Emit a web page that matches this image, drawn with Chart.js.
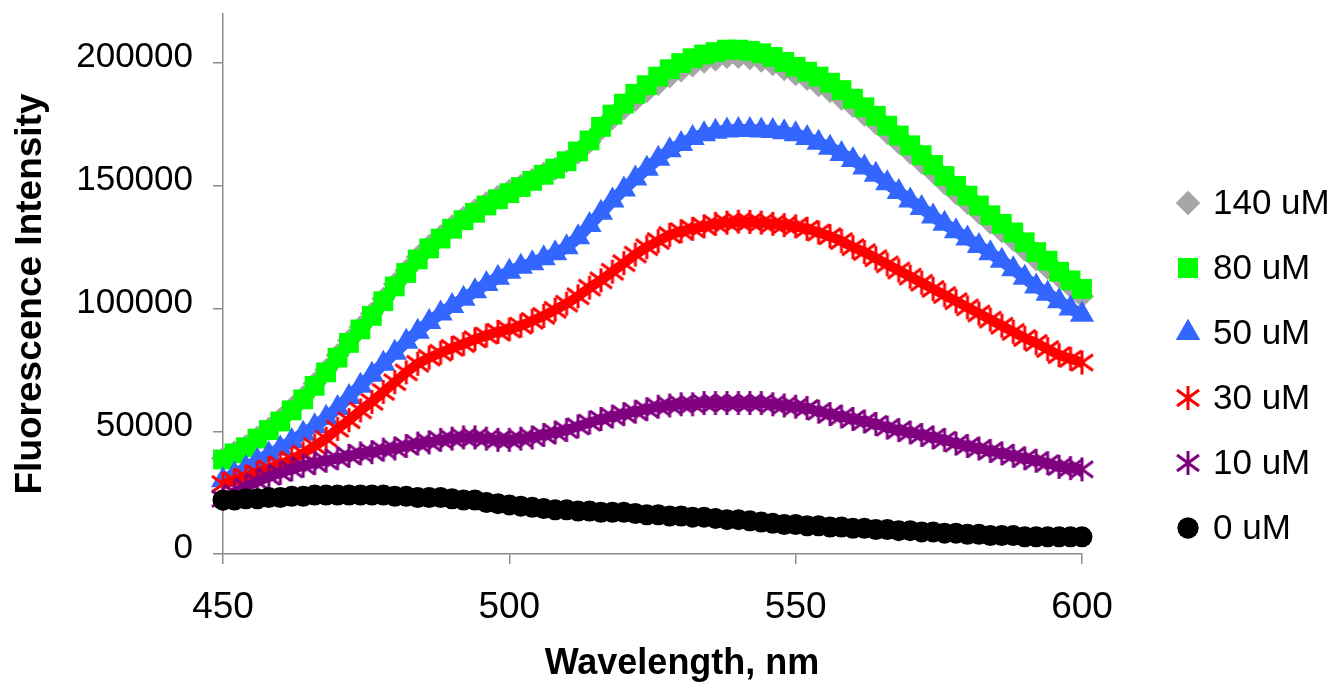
<!DOCTYPE html>
<html lang="en">
<head>
  <meta charset="UTF-8" />
  <title>Fluorescence spectra</title>
  <script src="https://cdn.jsdelivr.net/npm/chart.js"></script>
  <style>
    body {
      margin: 0;
      background-color: #ffffff;
    }
    .chart-wrap {
      width: 1340px;
      height: 688px;
    }
  </style>
</head>
<body>
  <div class="chart-wrap">
    <canvas id="graficaEspectro" width="1340" height="688"></canvas>
  </div>

  <script>
    // wavelength, nm
    const wavelengths = [
      450, 452, 454, 456, 458, 460, 462, 464, 466, 468,
      470, 472, 474, 476, 478, 480, 482, 484, 486, 488,
      490, 492, 494, 496, 498, 500, 502, 504, 506, 508,
      510, 512, 514, 516, 518, 520, 522, 524, 526, 528,
      530, 532, 534, 536, 538, 540, 542, 544, 546, 548,
      550, 552, 554, 556, 558, 560, 562, 564, 566, 568,
      570, 572, 574, 576, 578, 580, 582, 584, 586, 588,
      590, 592, 594, 596, 598, 600
    ];

    const int140uM = [
      39000, 41500, 44000, 47500, 51000, 55000, 59500, 64000, 69500, 75000,
      81000, 87000, 92500, 98000, 104000, 110000, 115500, 121000, 125500, 129500,
      133500, 137000, 140000, 143000, 145500, 148000, 150000, 152500, 155000, 157000,
      160000, 163500, 168000, 173000, 177500, 181500, 185000, 188500, 191500, 194500,
      197000, 199000, 200500, 201500, 202500, 202500, 202000, 201000, 199500, 197500,
      195500, 193500, 191000, 188500, 185500, 182500, 179000, 175500, 171500, 167500,
      163500, 159500, 155500, 151000, 147000, 143000, 139000, 135000, 131500, 128000,
      124000, 120000, 116500, 113000, 109000, 105000
    ];

    const int80uM = [
      38500, 41000, 43500, 47000, 50500, 54000, 58500, 63000, 68500, 74000,
      80000, 86000, 91500, 97000, 103000, 109000, 114500, 120000, 124500, 128500,
      132500, 136000, 139000, 142000, 144500, 147000, 149500, 152000, 154500, 157000,
      160000, 164000, 168500, 174000, 179000, 183500, 187500, 191000, 194500, 197500,
      200000, 202000, 203500, 204500, 205500, 205500, 205000, 204000, 202500, 200500,
      198500, 196500, 194500, 192000, 189000, 185500, 182000, 178500, 174500, 170500,
      166500, 162500, 158500, 154000, 150000, 146000, 142000, 138000, 134500, 131000,
      127000, 123000, 119500, 115000, 111500, 108000
    ];

    const int50uM = [
      30000, 32500, 35000, 38000, 40500, 43000, 46000, 49000, 52000, 55500,
      59500, 64000, 68500, 73000, 77500, 82000, 86500, 90500, 94500, 98000,
      101000, 104000, 107000, 110000, 112500, 115000, 117000, 118500, 120500, 122500,
      125000, 129000, 134000, 139000, 144000, 148500, 153000, 157000, 161000, 164500,
      167000, 169500, 171000, 172000, 172500, 172700, 172700, 172500, 172300, 171800,
      171000, 169500, 167500, 165500, 163000, 160500, 157500, 154500, 151000, 147500,
      144000, 141000, 137500, 134500, 131500, 128500, 125500, 122500, 119500, 116000,
      112500, 109000, 106000, 103000, 100000, 97500
    ];

    const int30uM = [
      28500, 30000, 31500, 33000, 35000, 36500, 38500, 41000, 44000, 47000,
      51000, 54500, 58500, 62000, 66000, 70000, 74000, 77500, 80000, 82000,
      84000, 85500, 87500, 89000, 90500, 91500, 93000, 95000, 97000, 99500,
      102000, 105000, 108500, 111500, 115000, 118500, 122000, 125000, 127500, 130000,
      131500, 132500, 133500, 134500, 135000, 135400, 135300, 135000, 134500, 134000,
      133500, 132500, 131000, 129500, 127500, 125000, 123000, 120500, 118000, 115500,
      113000, 110500, 108000, 105500, 103000, 100500, 98000, 95500, 93000, 90500,
      88000, 86000, 83500, 81000, 79500, 78000
    ];

    const int10uM = [
      22500, 25000, 27500, 29500, 31500, 33000, 34500, 36000, 37000, 38000,
      39000, 40000, 41000, 41500, 42500, 43000, 44000, 45000, 45500, 46500,
      47000, 47500, 47500, 47000, 46500, 46500, 47000, 47500, 48500, 49500,
      50500, 52000, 53500, 55000, 56000, 57000, 58000, 59000, 60000, 60500,
      61000, 61000, 61500, 61500, 61500, 61500, 61500, 61500, 61000, 60500,
      60000, 59500, 58000, 57000, 56000, 55000, 54000, 53000, 51500, 50500,
      49500, 48500, 47500, 46500, 45000, 44000, 43000, 42000, 41000, 40000,
      39000, 38000, 37000, 35500, 35000, 34500
    ];

    const int0uM = [
      22000, 22000, 22500, 22500, 23000, 23000, 23500, 23500, 24000, 24000,
      24000, 24000, 24000, 24000, 24000, 23500, 23500, 23000, 23000, 23000,
      22500, 22000, 22000, 21000, 20500, 20000, 19500, 19000, 18500, 18000,
      18000, 17500, 17500, 17000, 17000, 17000, 16500, 16000, 16000, 15500,
      15500, 15000, 15000, 14500, 14000, 14000, 13500, 13000, 12500, 12000,
      12000, 11500, 11500, 11000, 11000, 10500, 10500, 10000, 10000, 9500,
      9500, 9000, 9000, 8500, 8500, 8000, 8000, 7500, 7500, 7500,
      7000, 7000, 7000, 7000, 7000, 7000
    ];

    const seriesLabels = ['140 uM', '80 uM', '50 uM', '30 uM', '10 uM', '0 uM'];
    const xTicks = [450, 500, 550, 600];
    const yTicks = [0, 50000, 100000, 150000, 200000];

    const FONT = "'Liberation Sans', Arial, sans-serif";
    const AXIS_GRAY = '#8c8c8c';

    // asterisk marker (vertical bar + X), like the Excel "star" marker
    function asterisco(color) {
      const c = document.createElement('canvas');
      c.width = 26;
      c.height = 26;
      const g = c.getContext('2d');
      g.strokeStyle = color;
      g.lineWidth = 3;
      g.lineCap = 'butt';
      g.beginPath();
      g.moveTo(13, 1); g.lineTo(13, 25);
      g.moveTo(2, 5); g.lineTo(24, 21);
      g.moveTo(2, 21); g.lineTo(24, 5);
      g.stroke();
      return c;
    }

    function puntos(valores) {
      return wavelengths.map((w, i) => ({ x: w, y: valores[i] }));
    }

    // band = width of the thin same-colour line under the markers, the
    // original has one marker per nm so the points merge into a band
    const estilos = [
      { color: '#a6a6a6', pointStyle: 'rectRot', radius: 12, band: 12 },
      { color: '#00ff00', pointStyle: 'rect', radius: 14, band: 14 },
      { color: '#3366ff', pointStyle: 'triangle', radius: 14, band: 12 },
      { color: '#ff0000', pointStyle: asterisco('#ff0000'), radius: 12, band: 10 },
      { color: '#800080', pointStyle: asterisco('#800080'), radius: 12, band: 10 },
      { color: '#000000', pointStyle: 'circle', radius: 10.5, band: 16 }
    ];
    const valores = [int140uM, int80uM, int50uM, int30uM, int10uM, int0uM];

    const datasets = valores.map((v, i) => ({
      label: seriesLabels[i],
      data: puntos(v),
      showLine: true,
      borderColor: estilos[i].color,
      borderWidth: estilos[i].band,
      tension: 0,
      pointStyle: estilos[i].pointStyle,
      pointRadius: estilos[i].radius,
      pointBackgroundColor: estilos[i].color,
      pointBorderColor: estilos[i].color,
      pointBorderWidth: 0,
      clip: false,
      order: valores.length - i   // later series drawn on top, as in the original
    }));

    // legend and axis titles drawn by hand so they sit where the original has them
    const extras = {
      id: 'extras',
      afterDraw(chart) {
        const ctx = chart.ctx;
        ctx.save();
        ctx.fillStyle = '#000';

        // axis titles
        ctx.font = 'bold 36px ' + FONT;
        ctx.textAlign = 'center';
        ctx.textBaseline = 'middle';
        ctx.fillText('Wavelength, nm', 682, 664);

        ctx.save();
        ctx.translate(31, 294);
        ctx.rotate(-Math.PI / 2);
        ctx.font = 'bold 37px ' + FONT;
        ctx.fillText('Fluorescence Intensity', 0, 0);
        ctx.restore();

        // legend
        const dibujar = Chart.helpers && Chart.helpers.drawPoint;
        ctx.font = '35px ' + FONT;
        ctx.textAlign = 'left';
        seriesLabels.forEach((lab, i) => {
          const y = 203 + i * 65;
          const e = estilos[i];
          const esImagen = typeof e.pointStyle === 'object';
          ctx.fillStyle = e.color;
          ctx.strokeStyle = e.color;
          ctx.beginPath();
          if (dibujar) {
            dibujar(ctx, { pointStyle: e.pointStyle, radius: e.radius, rotation: 0, borderWidth: 0 }, 1188, y);
            if (!esImagen) ctx.fill();
          }
          ctx.fillStyle = '#000';
          ctx.fillText(lab, 1213, y + 1);
        });
        ctx.restore();
      }
    };

    new Chart(document.getElementById('graficaEspectro').getContext('2d'), {
      type: 'scatter',
      data: { datasets },
      options: {
        responsive: false,
        animation: false,
        events: [],
        layout: { padding: { left: 0, right: 258, top: 12, bottom: 0 } },
        plugins: {
          legend: { display: false },
          tooltip: { enabled: false }
        },
        scales: {
          x: {
            type: 'linear',
            min: 450,
            max: 600,
            afterFit(scale) {
              scale.height = 134;
              scale.paddingLeft = 0;
              scale.paddingRight = 0;
            },
            afterBuildTicks(scale) { scale.ticks = xTicks.map(v => ({ value: v })); },
            border: { display: true, color: AXIS_GRAY, width: 1.5 },
            grid: { drawOnChartArea: false, drawTicks: true, tickLength: 10, color: AXIS_GRAY, lineWidth: 1.5 },
            ticks: {
              color: '#000',
              padding: 22,
              maxRotation: 0,
              font: { family: FONT, size: 37, lineHeight: 1.2 },
              callback: v => String(v)
            }
          },
          y: {
            type: 'linear',
            min: 0,
            max: 220000,
            afterFit(scale) {
              scale.width = 223;
              scale.paddingTop = 0;
              scale.paddingBottom = 0;
            },
            afterBuildTicks(scale) { scale.ticks = yTicks.map(v => ({ value: v })); },
            border: { display: true, color: AXIS_GRAY, width: 1.5 },
            grid: { drawOnChartArea: false, drawTicks: true, tickLength: 10, color: AXIS_GRAY, lineWidth: 1.5 },
            ticks: {
              color: '#000',
              padding: 20,
              // empty 2nd line with a short line height lifts each label ~5px,
              // the original labels sit slightly above their tick marks
              font: { family: FONT, size: 35, lineHeight: 0.3 },
              callback: v => [String(v), '']
            }
          }
        }
      },
      plugins: [extras]
    });
  </script>
</body>
</html>
